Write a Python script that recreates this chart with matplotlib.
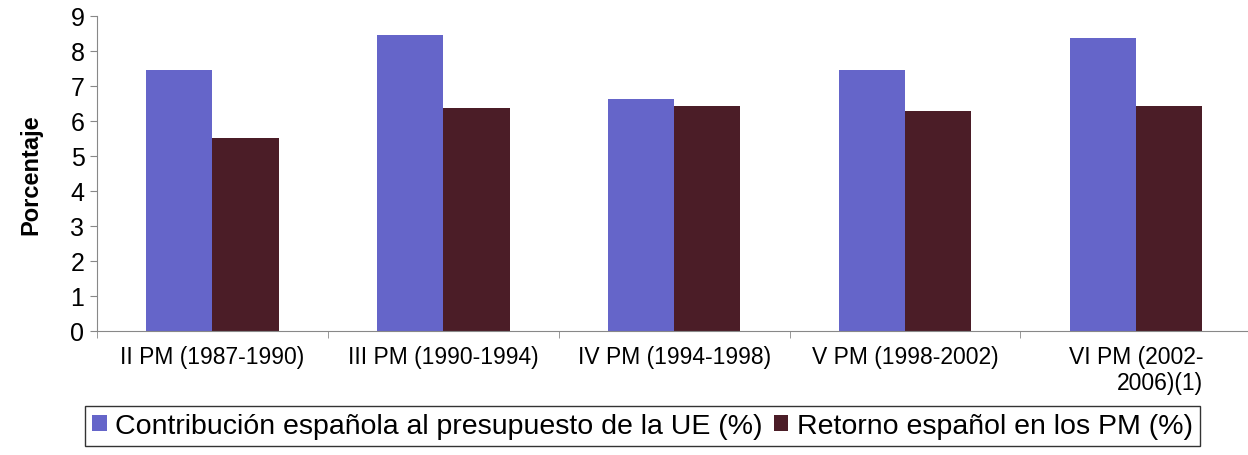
import matplotlib.pyplot as plt
import numpy as np

plt.rcParams['font.family'] = ['Liberation Sans', 'DejaVu Sans']

# datos
periodos = ["II PM (1987-1990)", "III PM (1990-1994)", "IV PM (1994-1998)",
            "V PM (1998-2002)", "VI PM (2002-\n2006)(1)"]
contribucion = [7.45, 8.45, 6.62, 7.45, 8.38]
retorno = [5.5, 6.37, 6.42, 6.28, 6.42]

col_contrib = "#6565c9"
col_retorno = "#4b1d27"

fig = plt.figure(figsize=(12.48, 4.56), dpi=100)
ax = fig.add_axes([0.0777, 0.272, 0.925, 0.691])

x = np.arange(len(periodos))
w = 0.287
ax.bar(x - w / 2, contribucion, w, color=col_contrib,
       label="Contribución española al presupuesto de la UE (%)")
ax.bar(x + w / 2, retorno, w, color=col_retorno,
       label="Retorno español en los PM (%)")

ax.set_xlim(-0.5, len(periodos) - 0.5)
ax.set_ylim(0, 9)
ax.set_yticks(range(10))
ax.tick_params(axis='y', labelsize=18, length=5, color='#888888', pad=4)

# etiquetas centradas, marcas entre categorías
ax.set_xticks(x)
ax.set_xticklabels(periodos, fontsize=16.5, multialignment='right',
                   linespacing=1.2)
ax.tick_params(axis='x', which='major', length=0, pad=10)
ax.set_xticks(np.arange(-0.5, len(periodos), 1.0), minor=True)
ax.tick_params(axis='x', which='minor', length=5, color='#888888')

for s in ['top', 'right']:
    ax.spines[s].set_visible(False)
for s in ['left', 'bottom']:
    ax.spines[s].set_color('#888888')

ax.set_ylabel("Porcentaje", fontsize=17, fontweight='bold', labelpad=20)

leg = fig.legend(loc='center', bbox_to_anchor=(0.515, 0.064), ncol=2,
                 fontsize=20.5, frameon=True, fancybox=False, edgecolor='black',
                 handlelength=0.5, handleheight=0.5, handletextpad=0.3,
                 columnspacing=0.4, borderpad=0.25, borderaxespad=0)
leg.get_frame().set_linewidth(1.0)

fig.savefig("out.png", dpi=100)
